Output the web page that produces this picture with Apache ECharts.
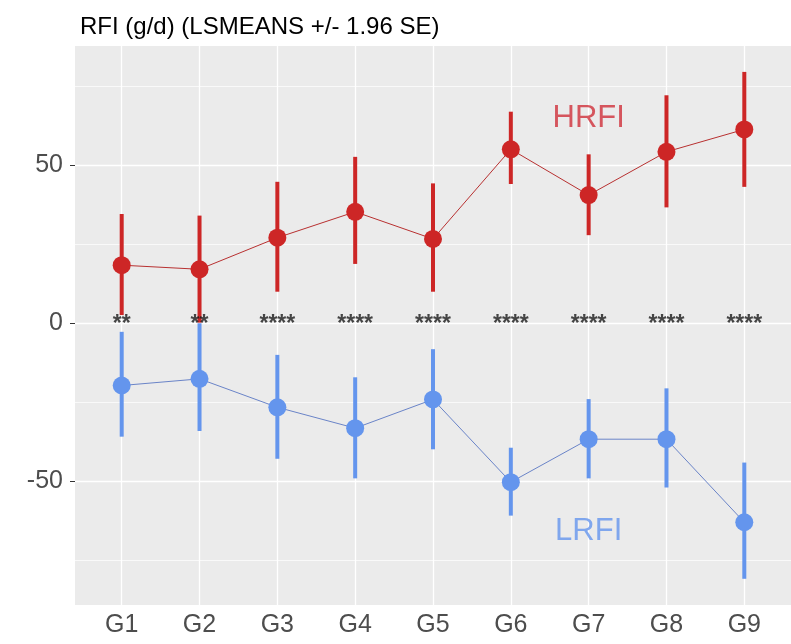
<!DOCTYPE html>
<html>
<head>
<meta charset="utf-8">
<script src="https://cdn.jsdelivr.net/npm/echarts@6/dist/echarts.min.js"></script>
<style>html,body{margin:0;padding:0;background:#fff;}#chart{width:791px;height:644px;}</style>
</head>
<body>
<div id="chart"></div>
<script>
// ---- data ----
const categories = ['G1','G2','G3','G4','G5','G6','G7','G8','G9'];
const hrfiMean = [18.4, 17.1, 27.1, 35.3, 26.7, 55.1, 40.6, 54.3, 61.4];
const hrfiLow  = [2.6, 0.2, 10.0, 18.8, 10.0, 44.1, 27.9, 36.7, 43.2];
const hrfiHigh = [34.6, 34.1, 44.8, 52.7, 44.3, 67.0, 53.5, 72.2, 79.6];
const lrfiMean = [-19.7, -17.6, -26.6, -33.2, -24.1, -50.3, -36.7, -36.7, -63.0];
const lrfiLow  = [-35.9, -34.1, -42.9, -49.1, -39.9, -60.9, -49.1, -52.0, -80.9];
const lrfiHigh = [-2.7, 0.0, -10.0, -17.1, -8.2, -39.4, -24.0, -20.6, -44.1];
const sigStars = ['**','**','****','****','****','****','****','****','****'];
const annoText = ['HRFI','LRFI'];
const annoX = [7, 7];
const annoY = [65, -66];
const yMajorTicks = [-50, 0, 50];
const yMinorTicks = [-75, -25, 25, 75];
const xTicks = [1,2,3,4,5,6,7,8,9];

// ---- styling ----
const RED = '#CD2626';
const BLUE = '#6495ED';
const FONT = 'Liberation Sans, Arial, sans-serif';

const chart = echarts.init(document.getElementById('chart'), null, {renderer:'canvas'});

function errBar(low, high, color) {
  return {
    type: 'custom',
    z: 10,
    data: categories.map((c, i) => [i + 1, low[i], high[i]]),
    encode: {x: 0, y: [1, 2]},
    renderItem: function (params, api) {
      const x = api.value(0);
      const p1 = api.coord([x, api.value(1)]);
      const p2 = api.coord([x, api.value(2)]);
      return {type: 'line', shape: {x1: p1[0], y1: p1[1], x2: p2[0], y2: p2[1]},
              style: {stroke: color, lineWidth: 4}};
    },
    silent: true
  };
}

const gridLines = [];
xTicks.forEach(v => gridLines.push({xAxis: v, lineStyle: {color: '#fff', width: 1.3, type: 'solid'}}));
yMinorTicks.forEach(v => gridLines.push({yAxis: v, lineStyle: {color: '#fff', width: 0.7, type: 'solid'}}));
yMajorTicks.forEach(v => gridLines.push({yAxis: v, lineStyle: {color: '#fff', width: 1.3, type: 'solid'}}));

const option = {
  animation: false,
  backgroundColor: '#fff',
  title: {
    text: 'RFI (g/d) (LSMEANS +/- 1.96 SE)',
    left: 75, top: 10,
    textStyle: {fontFamily: FONT, fontSize: 24, fontWeight: 'normal', color: '#000'}
  },
  grid: {
    show: true, backgroundColor: '#EBEBEB', borderWidth: 0,
    left: 75, right: -3.4, top: 46, bottom: 39
  },
  xAxis: {
    type: 'value', min: 0.4, max: 9.6,
    axisLine: {show: false},
    splitLine: {show: false},
    axisTick: {show: true, length: 5, lineStyle: {color: '#333'}, customValues: xTicks},
    axisLabel: {
      customValues: xTicks,
      formatter: v => categories[Math.round(v) - 1],
      color: '#4D4D4D', fontSize: 25, fontFamily: FONT, margin: 8
    }
  },
  yAxis: {
    type: 'value', min: -89.2, max: 87.8,
    axisLine: {show: false},
    splitLine: {show: false},
    axisTick: {show: true, length: 5, lineStyle: {color: '#333'}, customValues: yMajorTicks},
    axisLabel: {
      customValues: yMajorTicks,
      color: '#4D4D4D', fontSize: 25, fontFamily: FONT, margin: 12
    }
  },
  series: [
    {
      type: 'line', z: 1, data: [], silent: true, symbol: 'none',
      markLine: {silent: true, z: 1, symbol: 'none', label: {show: false}, data: gridLines, animation: false}
    },
    errBar(hrfiLow, hrfiHigh, RED),
    errBar(lrfiLow, lrfiHigh, BLUE),
    {
      type: 'line', z: 11, data: hrfiMean.map((v, i) => [i + 1, v]),
      lineStyle: {color: '#B83030', width: 1},
      symbol: 'circle', symbolSize: 18,
      itemStyle: {color: RED}, silent: true
    },
    {
      type: 'line', z: 11, data: lrfiMean.map((v, i) => [i + 1, v]),
      lineStyle: {color: '#6A84C8', width: 1},
      symbol: 'circle', symbolSize: 18,
      itemStyle: {color: BLUE}, silent: true
    },
    {
      type: 'scatter', z: 12, symbolSize: 0, silent: true,
      data: sigStars.map((s, i) => [i + 1, 0]),
      label: {
        show: true, position: 'inside', offset: [0, 1],
        formatter: p => sigStars[p.dataIndex],
        color: '#1a1a1a', fontSize: 23, fontFamily: FONT, fontWeight: 'bold'
      }
    },
    {
      type: 'scatter', z: 12, symbolSize: 0, silent: true,
      data: annoText.map((t, i) => ({
        value: [annoX[i], annoY[i]],
        label: {color: i === 0 ? '#D0303A' : BLUE}
      })),
      label: {
        show: true, position: 'inside',
        formatter: p => annoText[p.dataIndex],
        fontSize: 31, fontFamily: FONT
      },
      itemStyle: {color: 'transparent'}
    }
  ]
};

chart.setOption(option);
</script>
</body>
</html>
